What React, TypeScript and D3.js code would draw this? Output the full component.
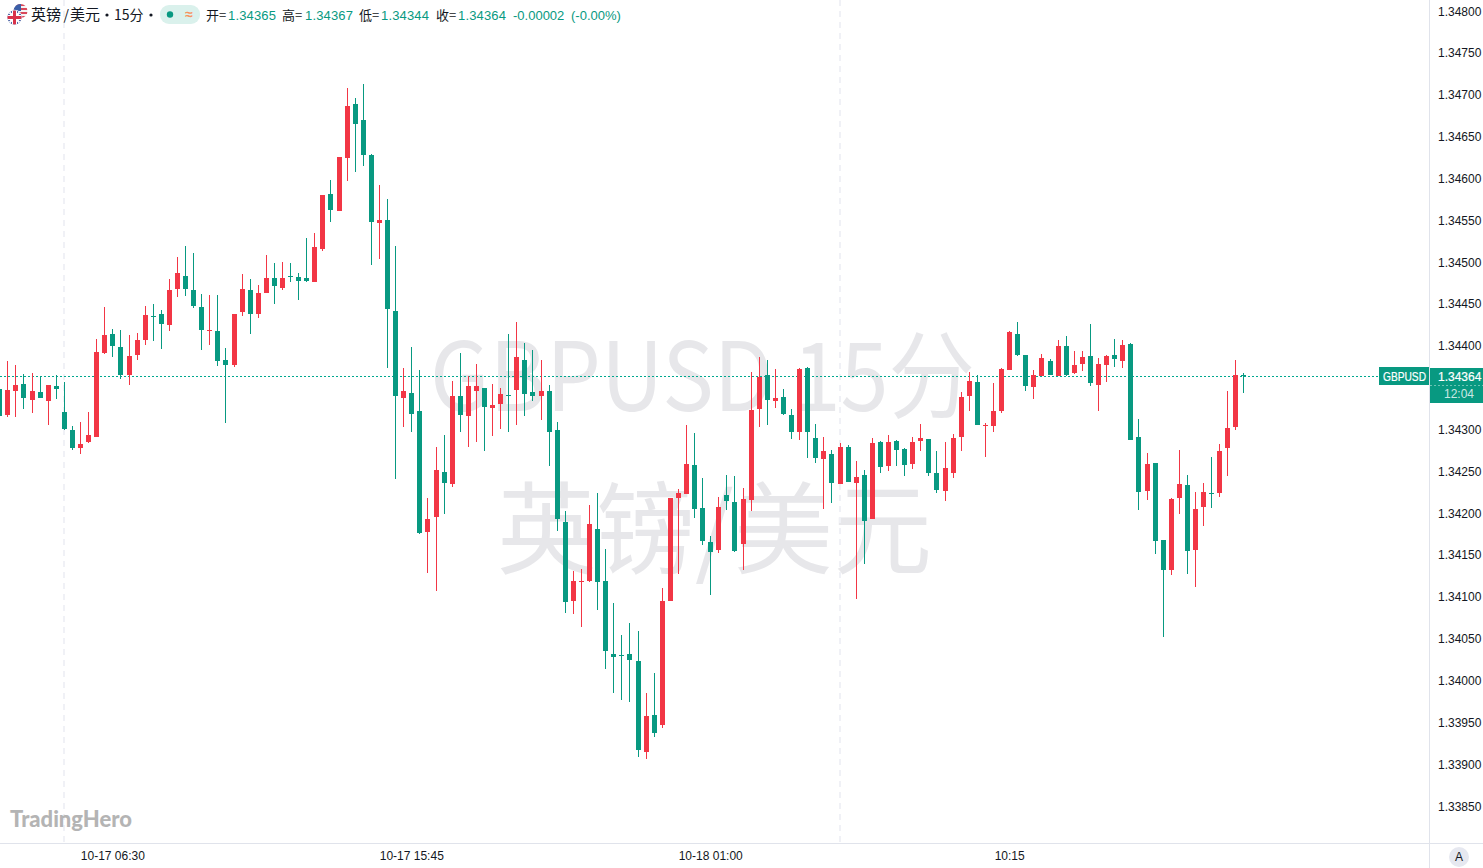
import React from "react";
import * as d3 from "d3";

// Prices in pipettes (price x 100000), one 15-minute bar each, oldest first.
const opens = [134348,134317,134346,134354,134335,134345,134334,134352,134321,134299,134278,134285,134291,134391,134414,134399,134365,134389,134407,134436,134438,134425,134468,134483,134467,134446,134418,134418,134383,134377,134440,134467,134438,134463,134481,134469,134483,134482,134481,134476,134516,134581,134561,134624,134689,134670,134628,134547,134550,134441,134338,134344,134322,134177,134195,134249,134235,134340,134316,134346,134350,134326,134330,134341,134347,134383,134345,134340,134346,134299,134189,134095,134118,134119,134181,134119,134032,134030,134032,134023,133915,133959,133947,134095,134218,134223,134258,134206,134165,134156,134222,134213,134163,134216,134324,134365,134334,134339,134317,134297,134373,134290,134265,134271,134235,134279,134236,134246,134193,134285,134256,134286,134277,134259,134286,134289,134248,134226,134248,134291,134340,134357,134304,134304,134322,134371,134414,134389,134351,134364,134382,134364,134400,134367,134378,134388,134353,134377,134389,134382,134402,134291,134226,134260,134168,134132,134218,134234,134156,134207,134224,134224,134278,134303,134365];
const highs = [134360,134382,134377,134366,134367,134364,134353,134365,134357,134304,134309,134321,134408,134446,134420,134419,134413,134415,134448,134450,134443,134480,134506,134519,134511,134462,134461,134461,134397,134438,134486,134480,134473,134508,134499,134500,134499,134487,134529,134535,134580,134598,134626,134708,134696,134713,134629,134592,134575,134519,134373,134399,134371,134218,134279,134293,134358,134391,134364,134378,134350,134354,134350,134414,134428,134403,134395,134383,134353,134309,134203,134131,134133,134210,134224,134157,134093,134054,134069,134059,133985,134009,134110,134218,134229,134305,134296,134242,134173,134219,134246,134244,134230,134369,134387,134383,134372,134348,134324,134373,134375,134307,134291,134275,134284,134281,134262,134252,134290,134286,134293,134287,134278,134291,134307,134289,134274,134285,134295,134345,134369,134365,134308,134356,134373,134418,134428,134389,134371,134390,134384,134407,134412,134394,134394,134426,134385,134389,134408,134407,134403,134313,134272,134260,134168,134218,134275,134246,134225,134236,134267,134283,134346,134383,134367];
const lows = [134312,134315,134315,134324,134320,134338,134305,134336,134299,134275,134271,134284,134291,134390,134387,134360,134353,134383,134401,134406,134396,134418,134458,134459,134445,134395,134401,134376,134308,134375,134436,134414,134433,134463,134450,134467,134476,134455,134476,134476,134513,134548,134561,134597,134608,134615,134497,134504,134373,134241,134303,134297,134175,134128,134107,134199,134231,134297,134279,134285,134274,134292,134301,134297,134305,134316,134334,134311,134256,134179,134081,134079,134064,134118,134084,134014,133985,133977,133974,133909,133906,133932,133943,134095,134127,134223,134194,134162,134102,134152,134204,134153,134132,134203,134303,134305,134326,134317,134289,134287,134266,134260,134205,134212,134235,134237,134097,134139,134193,134248,134250,134256,134244,134253,134274,134244,134224,134215,134242,134274,134322,134305,134267,134297,134320,134371,134388,134346,134336,134364,134365,134364,134364,134366,134370,134352,134322,134357,134375,134373,134287,134204,134216,134151,134052,134126,134199,134127,134112,134185,134206,134219,134244,134299,134344];
const closes = [134316,134347,134353,134338,134346,134338,134353,134348,134301,134278,134283,134293,134393,134413,134400,134365,134388,134407,134437,134434,134426,134467,134487,134468,134448,134419,134419,134382,134377,134438,134468,134438,134463,134481,134471,134481,134482,134477,134477,134518,134580,134562,134626,134687,134665,134628,134548,134550,134444,134340,134346,134318,134176,134193,134252,134236,134340,134317,134352,134352,134327,134329,134342,134340,134387,134342,134340,134346,134297,134193,134094,134119,134119,134187,134118,134035,134028,134029,134024,133917,133958,133937,134095,134218,134224,134259,134205,134167,134154,134207,134215,134155,134217,134323,134363,134335,134338,134318,134297,134372,134297,134266,134274,134236,134279,134237,134243,134191,134284,134255,134285,134275,134258,134285,134290,134248,134228,134254,134290,134339,134358,134305,134305,134322,134372,134416,134389,134352,134365,134385,134365,134400,134365,134377,134387,134356,134378,134388,134384,134401,134287,134225,134259,134167,134132,134217,134235,134155,134205,134225,134223,134274,134302,134365,134364];

const startTime = "2025-10-17T03:00:00"; // bar before the first fully visible one
const barMinutes = 15;
const priceTicks = [134800,134750,134700,134650,134600,134550,134500,134450,134400,134300,134250,134200,134150,134100,134050,134000,133950,133900,133850];
const timeTicks = [
  { bar: 14, label: "10-17 06:30" },
  { bar: 51, label: "10-17 15:45" },
  { bar: 88, label: "10-18 01:00" },
  { bar: 125, label: "10:15" },
];
const dayBreaks = [8, 104];
const lastPrice = 134364;
const symbol = "GBPUSD";
const countdown = "12:04";
const watermarkLines = ["GBPUSD 15分", "英镑/美元"];
const legendPairs = [
  { key: "开=", value: "1.34365", keyX: 206, valueX: 228 },
  { key: "高=", value: "1.34367", keyX: 282, valueX: 305 },
  { key: "低=", value: "1.34344", keyX: 359, valueX: 381 },
  { key: "收=", value: "1.34364", keyX: 436, valueX: 458 },
];

const W = 1483, H = 868, AXIS_X = 1429, AXIS_Y = 843;
const UP = "#f23645", DOWN = "#089981", GRID = "#e0e3eb", INK = "#131722";
const FONT = '"Liberation Sans", Arial, "Noto Sans CJK SC", sans-serif';
const CJK = '"Noto Sans CJK SC", "Liberation Sans", sans-serif';

const x = d3.scaleLinear().domain([0, opens.length - 1]).range([-0.26, 1243.98]);
const y = d3.scaleLinear().domain([133850, 134800]).range([806, 11]);
const fmt = (v: number) => (v / 100000).toFixed(5);

export default function App() {
  const bars = d3.range(opens.length).map((i) => ({
    i, o: opens[i], h: highs[i], l: lows[i], c: closes[i],
    t: d3.timeMinute.offset(new Date(startTime), i * barMinutes),
  }));
  const lastY = Math.round(y(lastPrice));
  return (
    <svg width={W} height={H} style={{ position: "fixed", left: 0, top: 0, display: "block", background: "#fff" }}>
      {/* watermark */}
      <g fontFamily={CJK} fill="#e7e7ea" textAnchor="start">
        <text x={430} y={411} fontSize={95} textLength={545} lengthAdjust="spacingAndGlyphs">{watermarkLines[0]}</text>
        <text x={497} y={566} fontSize={100} textLength={435} lengthAdjust="spacingAndGlyphs">{watermarkLines[1]}</text>
      </g>
      {/* day separators */}
      {dayBreaks.map((b) => (
        <line key={b} x1={Math.floor(x(b))} x2={Math.floor(x(b))} y1={0} y2={AXIS_Y}
          stroke="#f0f1f6" strokeWidth={2} strokeDasharray="6 5" />
      ))}
      {/* last price line */}
      <line x1={0} x2={1379} y1={lastY + 0.5} y2={lastY + 0.5} stroke="#00a88f" strokeWidth={1} strokeDasharray="2 2" />
      {/* candles */}
      <g shapeRendering="crispEdges">
        {bars.map((b) => {
          const col = b.c > b.o ? UP : DOWN;
          const px = Math.floor(x(b.i));
          const top = Math.round(y(Math.max(b.o, b.c)));
          const bot = Math.round(y(Math.min(b.o, b.c)));
          const hi = Math.round(y(b.h));
          const lo = Math.round(y(b.l));
          return (
            <g key={b.i} fill={col}>
              <title>{d3.timeFormat("%m-%d %H:%M")(b.t)}</title>
              <rect x={px} y={hi} width={1} height={Math.max(1, lo - hi)} />
              <rect x={px - 2} y={top} width={5} height={Math.max(1, bot - top)} />
            </g>
          );
        })}
      </g>
      {/* axes */}
      <rect x={AXIS_X} y={0} width={1} height={H} fill={GRID} />
      <rect x={0} y={AXIS_Y} width={W} height={1} fill={GRID} />
      <g fontFamily={FONT} fontSize={12} fill={INK}>
        {priceTicks.map((p) => (
          <text key={p} x={1438} y={y(p)} dy={4.5}>{fmt(p)}</text>
        ))}
        {timeTicks.map((t) => (
          <text key={t.label} x={x(t.bar)} y={860} textAnchor="middle">{t.label}</text>
        ))}
      </g>
      {/* last price labels */}
      <g shapeRendering="crispEdges">
        <rect x={1379} y={367} width={50} height={18} rx={1} fill={DOWN} />
        <rect x={1430} y={368} width={53} height={35} fill={DOWN} />
        <line x1={1430} x2={1483} y1={385.5} y2={385.5} stroke="#6cc4b4" strokeDasharray="2 2" />
      </g>
      <g fontFamily={FONT} fontSize={12} fill="#fff">
        <text x={1383} y={380.5} textLength={43} lengthAdjust="spacingAndGlyphs" stroke="#fff" strokeWidth={0.2}>{symbol}</text>
        <text x={1438} y={380.5} stroke="#fff" strokeWidth={0.2}>{fmt(lastPrice)}</text>
        <text x={1459} y={398} textAnchor="middle" fillOpacity={0.8}>{countdown}</text>
      </g>
      {/* legend */}
      <defs>
        <clipPath id="usClip"><circle cx={20.5} cy={11} r={7} /></clipPath>
        <clipPath id="ukClip"><circle cx={14.5} cy={17.5} r={7} /></clipPath>
      </defs>
      <g clipPath="url(#usClip)">
        <rect x={13} y={4} width={15} height={14} fill="#f5f5f5" />
        {d3.range(4).map((k) => <rect key={k} x={13} y={4 + k * 4} width={15} height={2} fill="#d8485a" />)}
        <rect x={13} y={4} width={8} height={7} fill="#3b5fa8" />
      </g>
      <circle cx={14.5} cy={17.5} r={7.8} fill="#fff" />
      <g clipPath="url(#ukClip)">
        <rect x={7} y={10} width={15} height={15} fill="#2f4a96" />
        <line x1={8} y1={11} x2={21} y2={24} stroke="#fff" strokeWidth={2.4} />
        <line x1={21} y1={11} x2={8} y2={24} stroke="#fff" strokeWidth={2.4} />
        <rect x={7} y={15} width={15} height={5} fill="#fff" />
        <rect x={12} y={10} width={5} height={15} fill="#fff" />
        <rect x={7} y={16} width={15} height={3} fill="#d8324a" />
        <rect x={13} y={10} width={3} height={15} fill="#d8324a" />
      </g>
      <g fontFamily={CJK} fontSize={15} fill={INK}>
        <text x={31} y={20}>英镑</text>
        <text x={63.5} y={20} fontSize={14}>/</text>
        <text x={70} y={20}>美元</text>
        <circle cx={107} cy={15} r={1.6} />
        <text x={114} y={20} fontSize={14}>15分</text>
        <circle cx={151} cy={15} r={1.6} />
      </g>
      <rect x={160} y={5} width={40} height={19} rx={9} fill="#daf1ec" />
      <circle cx={170} cy={14.5} r={3.2} fill={DOWN} />
      <text x={189} y={19} fontFamily={FONT} fontSize={14} fontWeight={700} fill="#f7925e" textAnchor="middle">≈</text>
      <g fontSize={13}>
        {legendPairs.map((p) => (
          <g key={p.key}>
            <text x={p.keyX} y={19.5} fontFamily={CJK} fill={INK}>{p.key}</text>
            <text x={p.valueX} y={19.5} fontFamily={FONT} fill={DOWN} textLength={48}>{p.value}</text>
          </g>
        ))}
        <text x={513} y={19.5} fontFamily={FONT} fill={DOWN}>-0.00002</text>
        <text x={571} y={19.5} fontFamily={FONT} fill={DOWN}>(-0.00%)</text>
      </g>
      {/* brand */}
      <text x={10} y={827} fontFamily='Lato, "Open Sans", sans-serif' fontSize={23} fontWeight={900} fill="#b4b4b4" textLength={122} lengthAdjust="spacingAndGlyphs">TradingHero</text>
      <circle cx={1459} cy={857} r={10} fill="#e6e8f0" />
      <text x={1459} y={861} fontFamily={FONT} fontSize={12} fill={INK} textAnchor="middle">A</text>
    </svg>
  );
}
